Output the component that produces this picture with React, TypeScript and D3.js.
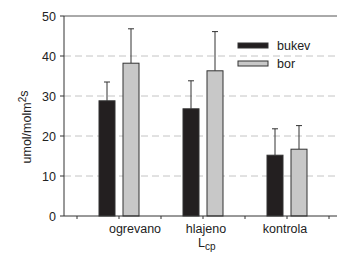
import * as React from "react"
import * as d3 from "d3"

const categories = ["ogrevano", "hlajeno", "kontrola"]
const series = ["bukev", "bor"]
const bukevValues = [28.8, 26.8, 15.2]
const bukevErrors = [4.7, 7.0, 6.6]
const borValues = [38.2, 36.3, 16.7]
const borErrors = [8.6, 9.8, 5.9]
const yTicks = [0, 10, 20, 30, 40, 50]

const colors = ["#231f20", "#c8c8c8"]
const font = "'Liberation Sans', Arial, sans-serif"
// the original labels sit a bit off their group centres
const labelShift = [16, 3, -2]

function App() {
    const width = 342
    const height = 255
    const left = 64
    const right = 337
    const top = 16
    const bottom = 216

    const y = d3.scaleLinear().domain([0, 50]).range([bottom, top])
    const x = d3.scaleBand().domain(categories).range([77, 329]).padding(0)
    const center = (c) => x(c) + x.bandwidth() / 2

    const tickPositions = d3.range(0, categories.length * 2 + 1).map((i) => 77 + (i * x.bandwidth()) / 2)

    const values = [bukevValues, borValues]
    const errors = [bukevErrors, borErrors]
    const barWidth = 16
    const offsets = [-12, 12]

    return (
        <svg width={width} height={height} style={{ position: "fixed", left: 0, top: 0 }} fontFamily={font}>
            <rect width={width} height={height} fill="#fff" />
            {/* grid */}
            {yTicks.filter((t) => t > 0 && t < 50).map((t) => (
                <line key={t} x1={left} x2={right} y1={y(t)} y2={y(t)} stroke="#c4c4c4" strokeWidth={1} strokeDasharray="7,4" />
            ))}
            <line x1={left} x2={right} y1={y(50)} y2={y(50)} stroke="#555" strokeWidth={1} />

            {/* bars */}
            {categories.map((c, i) => (
                <g key={c}>
                    {series.map((s, j) => {
                        const cx = center(c) + offsets[j]
                        const v = values[j][i]
                        const e = v + errors[j][i]
                        return (
                            <g key={s}>
                                <line x1={cx} x2={cx} y1={y(v)} y2={y(e)} stroke="#333" strokeWidth={1} />
                                <line x1={cx - 3} x2={cx + 3} y1={y(e)} y2={y(e)} stroke="#333" strokeWidth={1} />
                                <rect x={cx - barWidth / 2} y={y(v)} width={barWidth} height={y(0) - y(v)} fill={colors[j]} stroke="#333" strokeWidth={1} />
                            </g>
                        )
                    })}
                </g>
            ))}

            {/* axes */}
            <line x1={left} x2={left} y1={top} y2={bottom} stroke="#333" strokeWidth={1} />
            <line x1={left} x2={right} y1={bottom} y2={bottom} stroke="#333" strokeWidth={1} />
            {yTicks.map((t) => (
                <g key={t}>
                    <line x1={left - 4} x2={left} y1={y(t)} y2={y(t)} stroke="#333" />
                    <text x={left - 8} y={y(t) + 4.5} textAnchor="end" fontSize={12.5} fill="#222">{t}</text>
                </g>
            ))}
            {tickPositions.map((p, i) => (
                <line key={i} x1={p} x2={p} y1={bottom} y2={bottom + 3} stroke="#333" />
            ))}
            {categories.map((c, i) => (
                <text key={c} x={center(c) + labelShift[i]} y={bottom + 17} textAnchor="middle" fontSize={12.5} fill="#222">{c}</text>
            ))}
            <text x={center(categories[1]) - 5} y={bottom + 31} fontSize={12.5} fill="#222">
                L<tspan fontSize={10} dy={3}>cp</tspan>
            </text>

            {/* y label */}
            <text transform={`translate(31,127) rotate(-90)`} textAnchor="middle" fontSize={12.5} fill="#222">
                umol/molm<tspan fontSize={10} dy={-5}>2</tspan><tspan dy={2}>s</tspan>
            </text>

            {/* legend */}
            {series.map((s, j) => (
                <g key={s} transform={`translate(238,${43 + j * 18})`}>
                    <rect width={30} height={5} fill={colors[j]} stroke="#333" strokeWidth={1} />
                    <text x={39} y={7} fontSize={12.5} fill="#222">{s}</text>
                </g>
            ))}
        </svg>
    )
}

export default App
